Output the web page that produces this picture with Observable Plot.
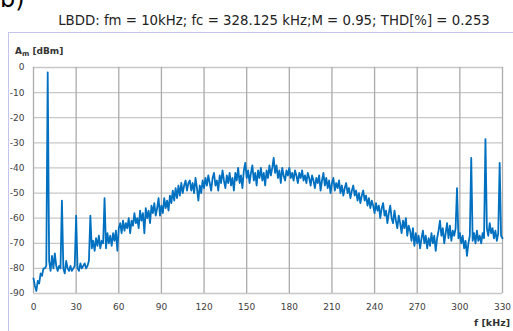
<!DOCTYPE html>
<html><head><meta charset="utf-8">
<script src="https://cdn.jsdelivr.net/npm/d3@7"></script>
<script src="https://cdn.jsdelivr.net/npm/@observablehq/plot@0.6"></script>
<style>
body{margin:0;background:#fff;}
#wrap{position:relative;width:513px;height:331px;overflow:hidden;font-family:"DejaVu Sans",sans-serif;background:#fff;}
#chart{position:absolute;left:0;top:0;}
#border{position:absolute;left:8px;top:32px;width:520px;height:320px;border-top:1px solid #c4c4ee;border-left:1px solid #c4c4ee;}
#b{position:absolute;left:0;top:-13px;font-size:24px;color:#000;line-height:1;}
#title{position:absolute;left:0;width:548px;text-align:center;top:13px;font-size:13.3px;color:#222;white-space:nowrap;line-height:1.2;}
#ylab{position:absolute;left:15px;top:46px;font-size:9px;font-weight:bold;color:#333;white-space:nowrap;}
#ylab sub{font-size:7px;vertical-align:-2px;line-height:0;}
#xlab{position:absolute;right:3px;top:317px;font-size:9.5px;font-weight:bold;color:#333;white-space:nowrap;}
</style></head><body>
<div id="wrap">
 <div id="chart"></div>
 <div id="border"></div>
 <div id="b">b)</div>
 <div id="title">LBDD: fm = 10kHz; fc = 328.125 kHz;M = 0.95; THD[%] = 0.253</div>
 <div id="ylab">A<sub>m</sub> [dBm]</div>
 <div id="xlab">f [kHz]</div>
</div>
<script>
// spectrum sampled every 1 kHz from 0 to 330 kHz
const freqStepKHz = 1;
const amplitudeDbm = [
 -84, -87, -89, -85, -86, -82, -83, -80, -80, -79,
 -2, -77, -81, -75, -80, -74, -79, -81, -79, -80,
 -53, -80, -82, -77, -80, -81, -79, -81, -80, -79,
 -59, -80, -81, -78, -80, -79, -78, -80, -79, -77,
 -59, -72, -69, -73, -68, -71, -67, -72, -69, -70,
 -52, -72, -66, -70, -67, -71, -66, -69, -65, -73,
 -64, -62, -66, -61, -65, -62, -64, -60, -66, -61,
 -63, -58, -62, -60, -64, -57, -61, -58, -66, -56,
 -60, -57, -62, -55, -58, -54, -59, -56, -52, -59,
 -55, -58, -52, -56, -53, -57, -51, -54, -49, -53,
 -48, -52, -47, -51, -46, -50, -47, -45, -49, -46,
 -45, -49, -46, -50, -44, -48, -53, -47, -50, -45,
 -48, -44, -47, -43, -46, -49, -44, -42, -47, -45,
 -49, -43, -46, -41, -45, -48, -43, -46, -42, -47,
 -44, -49, -42, -45, -40, -46, -43, -48, -41, -38,
 -44, -41, -46, -42, -39, -45, -42, -47, -41, -44,
 -40, -45, -42, -47, -41, -44, -39, -43, -40, -36,
 -42, -39, -44, -41, -46, -40, -43, -45, -41, -43,
 -40, -44, -42, -45, -41, -43, -46, -42, -44, -41,
 -45, -43, -46, -42, -44, -47, -43, -45, -48, -44,
 -46, -43, -49, -45, -42, -47, -44, -48, -45, -50,
 -46, -44, -49, -46, -48, -45, -50, -47, -51, -48,
 -46, -50, -48, -52, -49, -47, -51, -49, -53, -50,
 -54, -51, -49, -53, -51, -55, -52, -56, -53, -55,
 -58, -54, -57, -55, -60, -56, -54, -59, -57, -62,
 -58, -55, -60, -62, -57, -61, -64, -59, -62, -66,
 -61, -64, -60, -67, -63, -65, -69, -64, -71, -66,
 -70, -67, -72, -68, -65, -70, -67, -72, -68, -71,
 -66, -70, -67, -73, -68, -65, -61, -67, -64, -70,
 -66, -62, -68, -63, -69, -65, -67, -64, -48, -68,
 -66, -70, -67, -72, -69, -75, -70, -67, -36, -69,
 -66, -70, -65, -69, -67, -70, -66, -68, -28.5, -64,
 -67, -62, -66, -64, -68, -65, -69, -66, -38, -67,
 -68
];
const xTicks = [0, 30, 60, 90, 120, 150, 180, 210, 240, 270, 300, 330];
const yTicks = [0, -10, -20, -30, -40, -50, -60, -70, -80, -90];

const data = amplitudeDbm.map((a, i) => ({f: i * freqStepKHz, a}));

const chart = Plot.plot({
  width: 513,
  height: 331,
  marginLeft: 33,
  marginRight: 11,
  marginTop: 67,
  marginBottom: 38,
  style: {fontFamily: "DejaVu Sans, sans-serif", fontSize: "9px", color: "#404040", background: "transparent"},
  x: {domain: [0, 330], ticks: xTicks, tickSize: 0, tickPadding: 10, label: null, tickFormat: d => String(d)},
  y: {domain: [-90, 0], ticks: yTicks, tickSize: 0, tickPadding: 9, label: null, tickFormat: d => String(d)},
  marks: [
    Plot.ruleY(yTicks, {stroke: "#c8c8c8", strokeWidth: 1.3}),
    Plot.ruleX(xTicks, {stroke: "#ababab", strokeWidth: 1.3}),
    Plot.lineY(data, {x: "f", y: "a", stroke: "#0070c0", strokeWidth: 1.8})
  ]
});
document.getElementById("chart").appendChild(chart);
</script>
</body></html>
